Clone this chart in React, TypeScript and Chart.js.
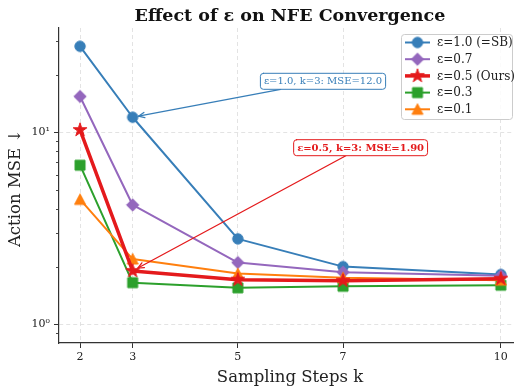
import React, { useEffect, useRef } from 'react';
import { Chart, registerables } from 'chart.js';

Chart.register(...registerables);

const FONT = '"DejaVu Serif", serif';

const steps = [2, 3, 5, 7, 10];
const mseEps10 = [28.1, 12.0, 2.79, 2.0, 1.82];
const mseEps07 = [15.4, 4.19, 2.1, 1.87, 1.79];
const mseEps05 = [10.3, 1.9, 1.71, 1.69, 1.73];
const mseEps03 = [6.75, 1.65, 1.55, 1.58, 1.6];
const mseEps01 = [4.48, 2.19, 1.84, 1.75, 1.7];

const seriesLabels = ['ε=1.0 (=SB)', 'ε=0.7', 'ε=0.5 (Ours)', 'ε=0.3', 'ε=0.1'];
const xTickValues = [2, 3, 5, 7, 10];
const yMajorTicks = [1, 10];
const yMinorTicks = [0.9, 2, 3, 4, 5, 6, 7, 8, 9, 20, 30];

const titleText = 'Effect of ε on NFE Convergence';
const xLabelText = 'Sampling Steps k';
const yLabelText = 'Action MSE ↓';

type Shape = 'circle' | 'diamond' | 'star' | 'square' | 'triangle';

function makeMarker(shape: Shape, color: string): HTMLCanvasElement {
  const c = document.createElement('canvas');
  const S = 18;
  c.width = S;
  c.height = S;
  const g = c.getContext('2d')!;
  const m = S / 2;
  g.fillStyle = color;
  g.strokeStyle = color;
  g.lineWidth = 1;
  g.lineJoin = 'miter';
  g.beginPath();
  if (shape === 'circle') {
    g.arc(m, m, 5.2, 0, Math.PI * 2);
  } else if (shape === 'diamond') {
    g.moveTo(m, m - 6.2);
    g.lineTo(m + 6.2, m);
    g.lineTo(m, m + 6.2);
    g.lineTo(m - 6.2, m);
    g.closePath();
  } else if (shape === 'square') {
    g.rect(m - 5, m - 5, 10, 10);
  } else if (shape === 'triangle') {
    g.moveTo(m, m - 5.5);
    g.lineTo(m + 5.5, m + 5);
    g.lineTo(m - 5.5, m + 5);
    g.closePath();
  } else if (shape === 'star') {
    const R = 7.2;
    const r = R * 0.382;
    for (let i = 0; i < 10; i++) {
      const a = -Math.PI / 2 + (i * Math.PI) / 5;
      const rr = i % 2 === 0 ? R : r;
      const px = m + rr * Math.cos(a);
      const py = m + rr * Math.sin(a);
      if (i === 0) g.moveTo(px, py);
      else g.lineTo(px, py);
    }
    g.closePath();
  }
  g.fill();
  g.stroke();
  return c;
}

interface SeriesDef {
  label: string;
  values: number[];
  color: string;
  shape: Shape;
  width: number;
  order: number;
}

const seriesDefs: SeriesDef[] = [
  { label: seriesLabels[0], values: mseEps10, color: '#377eb8', shape: 'circle', width: 2, order: 4 },
  { label: seriesLabels[1], values: mseEps07, color: '#9467bd', shape: 'diamond', width: 2, order: 3 },
  { label: seriesLabels[2], values: mseEps05, color: '#e41a1c', shape: 'star', width: 3.5, order: 0 },
  { label: seriesLabels[3], values: mseEps03, color: '#2ca02c', shape: 'square', width: 2, order: 2 },
  { label: seriesLabels[4], values: mseEps01, color: '#ff7f0e', shape: 'triangle', width: 2, order: 1 },
];

function drawArrowAnnotation(
  ctx: CanvasRenderingContext2D,
  text: string,
  cx: number,
  cy: number,
  px: number,
  py: number,
  color: string,
  bold: boolean
) {
  ctx.save();
  ctx.font = `${bold ? 'bold ' : ''}10px ${FONT}`;
  const tw = ctx.measureText(text).width;
  const hw = tw / 2 + 3.5;
  const hh = 8;
  const dx = px - cx;
  const dy = py - cy;
  const t = Math.min(hw / Math.abs(dx || 1e-6), hh / Math.abs(dy || 1e-6));
  const sx = cx + dx * t;
  const sy = cy + dy * t;
  const len = Math.hypot(px - sx, py - sy);
  const ux = (px - sx) / len;
  const uy = (py - sy) / len;
  const ex = px - ux * 6;
  const ey = py - uy * 6;
  ctx.strokeStyle = color;
  ctx.lineWidth = 1.3;
  ctx.lineCap = 'round';
  ctx.beginPath();
  ctx.moveTo(sx, sy);
  ctx.lineTo(ex, ey);
  ctx.stroke();
  const ah = 6.5;
  const ang = 0.42;
  const base = Math.atan2(uy, ux);
  ctx.beginPath();
  ctx.moveTo(ex - ah * Math.cos(base - ang), ey - ah * Math.sin(base - ang));
  ctx.lineTo(ex, ey);
  ctx.lineTo(ex - ah * Math.cos(base + ang), ey - ah * Math.sin(base + ang));
  ctx.stroke();
  ctx.beginPath();
  ctx.roundRect(cx - hw, cy - hh, hw * 2, hh * 2, 3);
  ctx.fillStyle = 'rgba(255,255,255,0.9)';
  ctx.fill();
  ctx.lineWidth = 1;
  ctx.strokeStyle = color;
  ctx.stroke();
  ctx.fillStyle = color;
  ctx.textAlign = 'center';
  ctx.textBaseline = 'middle';
  ctx.fillText(text, cx, cy + 0.5);
  ctx.restore();
}

export default function App() {
  const ref = useRef<HTMLCanvasElement | null>(null);

  useEffect(() => {
    if (!ref.current) return;
    const markers = seriesDefs.map((s) => makeMarker(s.shape, s.color));

    const overlay = {
      id: 'overlay',
      afterDraw(chart: any) {
        const { ctx, scales } = chart;
        const xs = scales.x;
        const ys = scales.y;
        const area = chart.chartArea;
        ctx.save();
        ctx.strokeStyle = '#333';
        ctx.lineWidth = 0.9;
        yMinorTicks.forEach((v) => {
          const py = Math.round(ys.getPixelForValue(v)) + 0.5;
          ctx.beginPath();
          ctx.moveTo(area.left - 3, py);
          ctx.lineTo(area.left, py);
          ctx.stroke();
        });
        ctx.fillStyle = '#111';
        ctx.textAlign = 'center';
        ctx.textBaseline = 'alphabetic';
        ctx.font = `bold 17.5px ${FONT}`;
        ctx.fillText(titleText, 290, 21);
        ctx.font = `16.5px ${FONT}`;
        ctx.fillStyle = '#222';
        ctx.fillText(xLabelText, 290, 382);
        ctx.save();
        ctx.translate(20, 188);
        ctx.rotate(-Math.PI / 2);
        ctx.fillText(yLabelText, 0, 0);
        ctx.restore();

        drawArrowAnnotation(
          ctx,
          `ε=1.0, k=3: MSE=${mseEps10[1].toFixed(1)}`,
          323,
          81.3,
          xs.getPixelForValue(steps[1]),
          ys.getPixelForValue(mseEps10[1]),
          '#377eb8',
          false
        );
        drawArrowAnnotation(
          ctx,
          `ε=0.5, k=3: MSE=${mseEps05[1].toFixed(2)}`,
          360.6,
          147.7,
          xs.getPixelForValue(steps[1]),
          ys.getPixelForValue(mseEps05[1]),
          '#e41a1c',
          true
        );

        ctx.beginPath();
        ctx.roundRect(401.5, 34.5, 111, 85, 3);
        ctx.fillStyle = 'rgba(255,255,255,0.85)';
        ctx.fill();
        ctx.strokeStyle = '#cccccc';
        ctx.lineWidth = 1;
        ctx.stroke();
        ctx.font = `12px ${FONT}`;
        ctx.textAlign = 'left';
        ctx.textBaseline = 'middle';
        seriesDefs.forEach((s, i) => {
          const ly = 42.5 + i * 16.7;
          ctx.strokeStyle = s.color;
          ctx.lineWidth = s.width;
          ctx.lineCap = 'butt';
          ctx.beginPath();
          ctx.moveTo(405, ly);
          ctx.lineTo(430, ly);
          ctx.stroke();
          const mk = markers[i];
          ctx.drawImage(mk, 417.5 - mk.width / 2, ly - mk.height / 2);
          ctx.fillStyle = '#222';
          ctx.fillText(s.label, 437, ly + 0.5);
        });
        ctx.restore();
      },
    };

    const chart = new Chart(ref.current, {
      type: 'line',
      data: {
        datasets: seriesDefs.map((s, i) => ({
          label: s.label,
          data: steps.map((k, j) => ({ x: k, y: s.values[j] })),
          borderColor: s.color,
          backgroundColor: s.color,
          borderWidth: s.width,
          borderJoinStyle: 'round' as const,
          borderCapStyle: 'round' as const,
          pointStyle: markers[i] as any,
          pointRadius: 6,
          pointHoverRadius: 6,
          pointBorderWidth: 0,
          order: s.order,
          tension: 0,
        })),
      },
      options: {
        responsive: false,
        animation: false,
        devicePixelRatio: 1,
        layout: { autoPadding: false, padding: { top: 28, left: 0, right: 0, bottom: 0 } },
        plugins: {
          legend: { display: false },
          title: { display: false },
          tooltip: { enabled: false },
        },
        events: [],
        scales: {
          x: {
            type: 'linear',
            min: 1.6,
            max: 10.25,
            afterBuildTicks: (s: any) => {
              s.ticks = xTickValues.map((v) => ({ value: v }));
            },
            afterFit: (s: any) => {
              s.height = 43;
              s.paddingLeft = 0;
              s.paddingRight = 0;
            },
            ticks: {
              font: { family: FONT, size: 11 },
              color: '#222',
              padding: 3,
              maxRotation: 0,
              autoSkip: false,
              callback: (v: any) => String(v),
            },
            grid: {
              color: '#dcdcdc',
              lineWidth: 0.8,
              tickColor: '#333',
              tickLength: 5,
              tickWidth: 1,
              tickBorderDash: [],
            },
            border: { display: true, color: '#333', width: 1.2, dash: [4, 3] },
          },
          y: {
            type: 'logarithmic',
            min: 0.8,
            max: 35,
            afterBuildTicks: (s: any) => {
              s.ticks = yMajorTicks.map((v) => ({ value: v }));
            },
            afterFit: (s: any) => {
              s.width = 59;
              s.paddingTop = 0;
              s.paddingBottom = 0;
            },
            ticks: {
              font: { family: FONT, size: 11 },
              color: '#222',
              padding: 4,
              autoSkip: false,
              callback: (v: any) => (v === 1 ? '10⁰' : v === 10 ? '10¹' : ''),
            },
            grid: {
              color: '#dcdcdc',
              lineWidth: 0.8,
              tickColor: '#333',
              tickLength: 5,
              tickWidth: 1,
              tickBorderDash: [],
            },
            border: { display: true, color: '#333', width: 1.2, dash: [4, 3] },
          },
        },
      },
      plugins: [overlay],
    } as any);

    return () => chart.destroy();
  }, []);

  return (
    <div style={{ position: 'fixed', left: 0, top: 0, width: 514, height: 386, background: '#fff' }}>
      <canvas ref={ref} width={514} height={386} style={{ display: 'block', width: 514, height: 386 }} />
    </div>
  );
}
